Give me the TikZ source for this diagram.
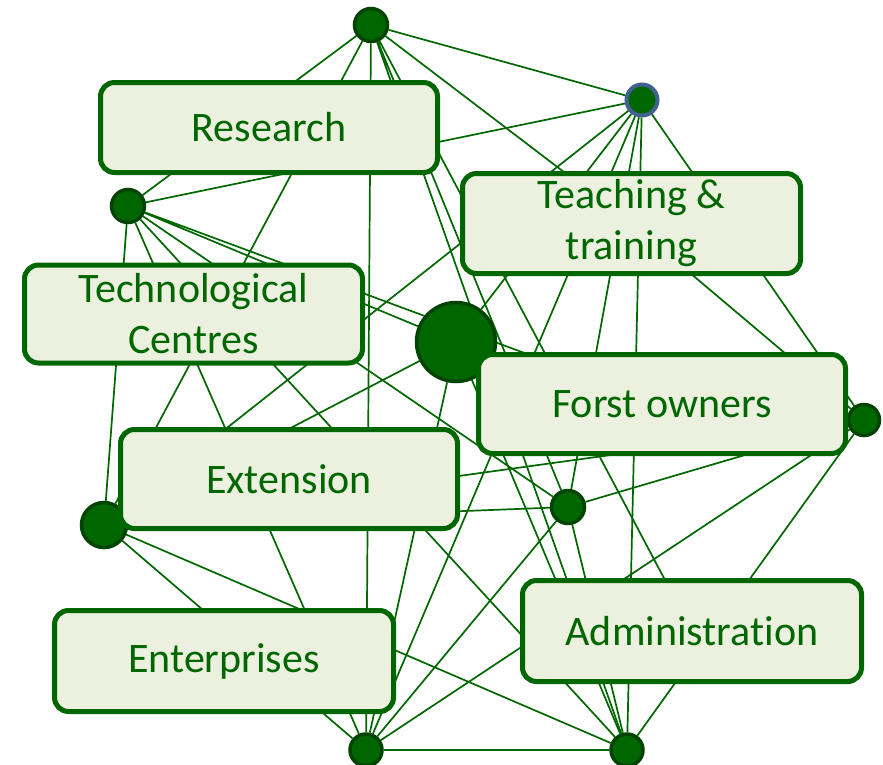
\documentclass[tikz,border=0pt]{standalone}
\usepackage{fontspec}
\setmainfont{Carlito}[Ligatures = NoCommon]
\usetikzlibrary{backgrounds}
\definecolor{leaf}{RGB}{0,102,0}
\definecolor{darkleaf}{RGB}{0,68,0}
\definecolor{boxfill}{RGB}{235,240,223}
\definecolor{ringblue}{RGB}{65,98,143}

\begin{document}
\begin{tikzpicture}[x = 1pt, y = -1pt,
  hub/.style = {circle, fill = leaf, draw = darkleaf, line width = 3.5pt, inner sep = 0pt},
  actor/.style = {draw = leaf, fill = boxfill, line width = 5pt, rounded corners = 14pt,
    text = leaf, align = center, inner sep = 0pt, font = \fontsize{42}{51}\selectfont},
  link/.style = {draw = leaf, line width = 1.7pt}]
\useasboundingbox (0, 0) rectangle (883, 764);
% hubs
\node (top) at (371, 25) [hub, minimum size = 33pt] {};
\node (blue) at (642, 100) [hub, draw = ringblue, line width = 4pt, minimum size = 31pt] {};
\node (left) at (128, 206) [hub, minimum size = 33pt] {};
\node (big) at (456, 342) [hub, minimum size = 79pt] {};
\node (right) at (864, 420) [hub, minimum size = 31pt] {};
\node (lowleft) at (104, 525) [hub, minimum size = 45pt] {};
\node (mid) at (568, 507) [hub, minimum size = 33pt] {};
\node (botl) at (366, 750) [hub, minimum size = 32pt] {};
\node (botr) at (627, 750) [hub, minimum size = 32pt] {};
% actors
\node (research) at (269, 127.5) [actor, minimum width = 337pt, minimum height = 90pt] {Research};
\node (teach) at (631.5, 223.5) [actor, minimum width = 338pt, minimum height = 100pt] {Teaching \&\\training};
\node (tech) at (193.5, 314) [actor, minimum width = 338pt, minimum height = 98pt] {Technological\\Centres};
\node (forst) at (662, 404) [actor, minimum width = 367pt, minimum height = 99pt] {Forst owners};
\node (ext) at (289, 479) [actor, minimum width = 337pt, minimum height = 99pt] {Extension};
\node (ent) at (224, 661) [actor, minimum width = 339pt, minimum height = 101pt] {Enterprises};
\node (admin) at (692, 631) [actor, minimum width = 339pt, minimum height = 101pt] {Administration};
% links, behind everything
\begin{scope}[on background layer]
\draw[link] (top) -- (blue) (top) -- (left) (top) -- (lowleft) (top) -- (mid)
  (top) -- (botl) (top) -- (botr) (top) -- (admin.center) (top) -- (teach.center);
\draw[link] (blue) -- (left) (blue) -- (big) (blue) -- (right) (blue) -- (lowleft)
  (blue) -- (mid) (blue) -- (botl) (blue) -- (botr);
\draw[link] (left) -- (big) (left) -- (lowleft) (left) -- (mid) (left) -- (botl)
  (left) -- (botr) (left) -- (forst.center);
\draw[link] (big) -- (lowleft) (big) -- (botl) (big) -- (botr);
\draw[link] (right) -- (lowleft) (right) -- (mid) (right) -- (botl) (right) -- (botr)
  (right) -- (teach.center);
\draw[link] (lowleft) -- (mid) (lowleft) -- (botl) (lowleft) -- (botr);
\draw[link] (mid) -- (botl) (mid) -- (botr) (botl) -- (botr);
\end{scope}
\end{tikzpicture}
\end{document}
